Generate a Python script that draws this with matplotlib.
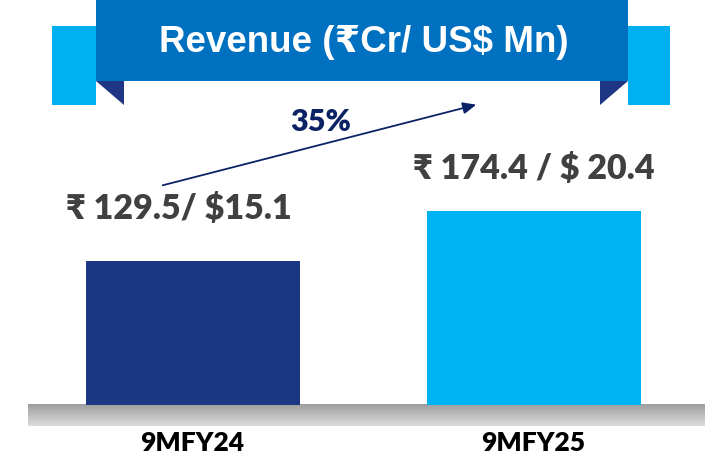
import matplotlib.pyplot as plt
import matplotlib.patches as mpatches
import numpy as np

periods = ["9MFY24", "9MFY25"]
revenue_cr = [129.5, 174.4]
revenue_usd = [15.1, 20.4]
value_labels = ["₹ 129.5/ $15.1", "₹ 174.4 / $ 20.4"]
title = "Revenue (₹Cr/ US$ Mn)"

bar_colors = ["#1b3784", "#00b4f4"]
band_blue = "#0070c0"
tab_blue = "#00b0f0"
fold_blue = "#1f3684"
arrow_navy = "#0b2364"

W, H = 705, 462
fig = plt.figure(figsize=(W / 100, H / 100), dpi=100)

# overlay in pixel coordinates for the decorations
deco = fig.add_axes([0, 0, 1, 1])
deco.set_xlim(0, W)
deco.set_ylim(H, 0)
deco.axis("off")

# banner: side tabs, folds, main band
deco.add_patch(mpatches.Rectangle((52, 26), 44, 79, color=tab_blue, lw=0))
deco.add_patch(mpatches.Rectangle((628, 26), 42, 79, color=tab_blue, lw=0))
deco.add_patch(mpatches.Polygon([(96, 81), (124, 81), (124, 105)], color=fold_blue, lw=0))
deco.add_patch(mpatches.Polygon([(600, 81), (628, 81), (600, 105)], color=fold_blue, lw=0))
deco.add_patch(mpatches.Rectangle((96, 0), 532, 81, color=band_blue, lw=0))
deco.text(364, 42, title, color="white", fontsize=26.5, fontweight="bold",
          family=["Liberation Sans", "DejaVu Sans"], ha="center", va="center")

# grey floor under the bars
grad = np.linspace(0.62, 0.86, 50).reshape(-1, 1)
deco.imshow(grad, cmap="gray", vmin=0, vmax=1, extent=(28, W, 426, 404),
            aspect="auto", zorder=1)

# bar axes: value 0 sits at pixel row 405, 1.112 px per crore
base_px = 405
px_per_unit = 144 / revenue_cr[0]
ax = fig.add_axes([0, (H - base_px) / H, 1, base_px / H])
ax.patch.set_alpha(0)
ax.set_ylim(0, base_px / px_per_unit)
spacing = 341
ax.set_xlim(-193 / spacing, (W - 193) / spacing)
x = np.arange(len(periods))
ax.bar(x, revenue_cr, width=214 / spacing, color=bar_colors)
ax.axis("off")

lab_font = ["Lato", "Noto Sans", "DejaVu Sans"]
offsets = [47, 38]
for i, lab in enumerate(value_labels):
    ax.text(x[i] - 0.04 * (i == 0), revenue_cr[i] + offsets[i], lab, ha="center",
            va="center", fontsize=24.5, fontweight="heavy", color="#404040",
            family=lab_font)

for i, p in enumerate(periods):
    deco.text(193 + spacing * i - 1, 443, p, ha="center", va="center",
              fontsize=19, fontweight="heavy", color="black", family=lab_font)

# growth arrow
growth = round((revenue_cr[1] / revenue_cr[0] - 1) * 100)
deco.annotate("", xy=(479, 104), xytext=(160, 186),
              arrowprops=dict(arrowstyle="-|>,head_length=0.8,head_width=0.35",
                              color=arrow_navy, lw=1.3))
deco.text(321, 122, f"{growth}%", ha="center", va="center", fontsize=22,
          fontweight="heavy", color=arrow_navy, family=lab_font)

fig.savefig("out.png", dpi=100)
